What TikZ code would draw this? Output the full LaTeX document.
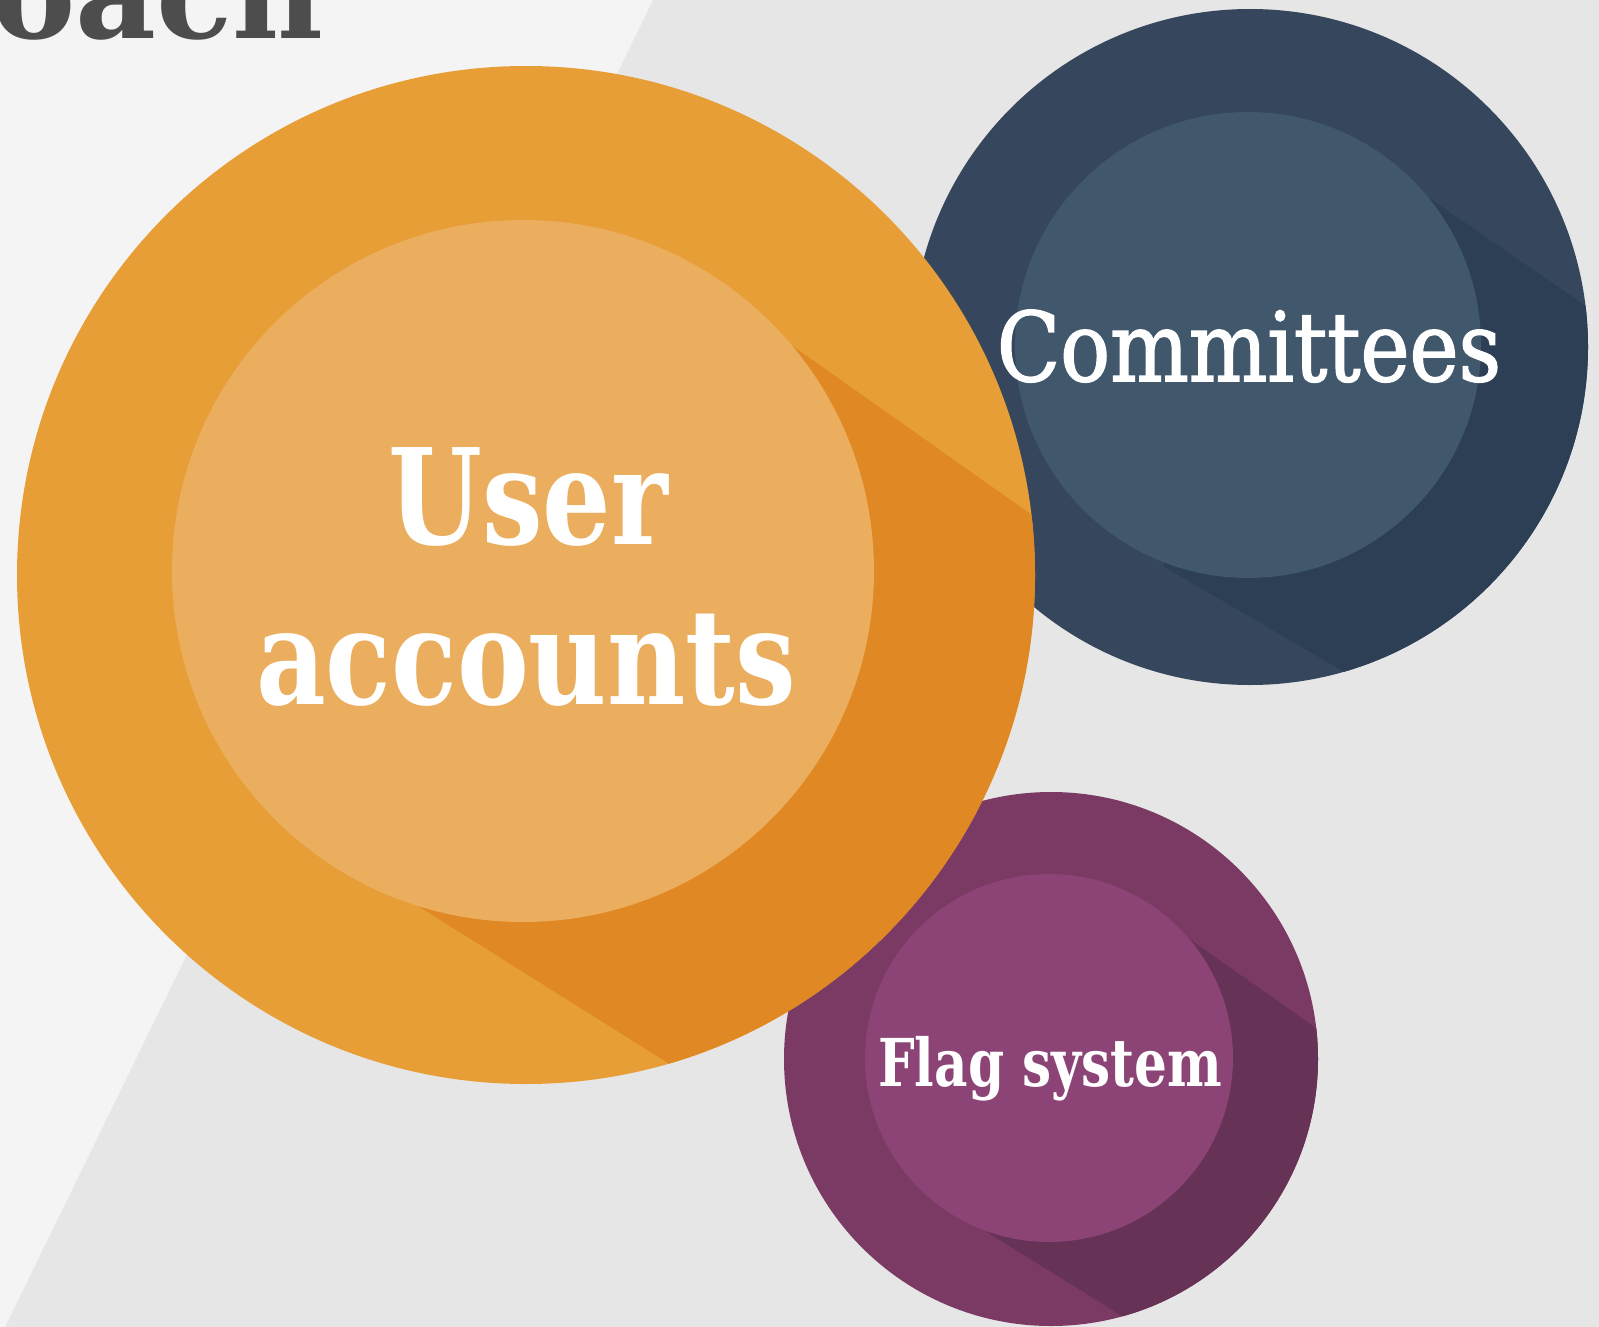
\documentclass[tikz,border=0pt]{standalone}
\usepackage{fontspec}
\setmainfont{DejaVu Serif}
\newfontfamily\condfont{DejaVu Serif Condensed}
\newfontfamily\condmed[FakeBold=1.6]{DejaVu Serif Condensed}
\definecolor{bgL}{HTML}{F4F4F4}
\definecolor{bgR}{HTML}{E6E6E6}
\definecolor{titleC}{HTML}{4D4D4D}
\definecolor{orO}{HTML}{E89E37}
\definecolor{orI}{HTML}{EAAE5E}
\definecolor{orS}{HTML}{E08823}
\definecolor{nvO}{HTML}{36475D}
\definecolor{nvI}{HTML}{41576C}
\definecolor{nvS}{HTML}{2D3F55}
\definecolor{puO}{HTML}{7B3A64}
\definecolor{puI}{HTML}{8C4476}
\definecolor{puS}{HTML}{663255}
\tikzset{
  disc/.style={circle, inner sep=0pt, outer sep=0pt, draw=none},
  label/.style={text=white, inner sep=0pt, anchor=base},
}
\begin{document}
\begin{tikzpicture}[x=1pt,y=-1pt]
\useasboundingbox (0,0) rectangle (1599,1327);
\clip (0,0) rectangle (1599,1327);
% background
\fill[bgR] (0,0) rectangle (1599,1327);
\fill[bgL] (0,0) -- (653,0) -- (5,1327) -- (0,1327) -- cycle;
% title fragment
\node[text=titleC, inner sep=0pt, anchor=base east, font=\bfseries\fontsize{125}{150}\selectfont] (title) at (324,39) {Approach};

% navy circle
\node[disc, fill=nvO, minimum size=676pt] (nvout) at (1250,347) {};
\begin{scope}
  \clip (1250,347) circle [radius=338pt];
  \fill[nvS] (1248,345) -- (1423,194) -- (1912,530) -- (1697,878) -- (1163,566) -- cycle;
\end{scope}
\node[disc, fill=nvI, minimum size=466pt] (nvin) at (1248,345) {};
\node[label, xscale=0.96, font=\condmed\fontsize{96}{115}\selectfont] (committees) at (1249,381) {Committees};

% purple circle
\node[disc, fill=puO, minimum size=534pt] (puout) at (1051,1059) {};
\begin{scope}
  \clip (1051,1059) circle [radius=267pt];
  \fill[puS] (1049,1058) -- (1188,938) -- (1572,1208) -- (1392,1484) -- (987,1232) -- cycle;
\end{scope}
\node[disc, fill=puI, minimum size=368pt] (puin) at (1049,1058) {};
\node[label, xscale=0.87, font=\condfont\bfseries\fontsize{66}{80}\selectfont] (flag) at (1050,1086) {Flag system};

% orange circle
\node[disc, fill=orO, minimum size=1018pt] (orout) at (526,575) {};
\begin{scope}
  \clip (526,575) circle [radius=509pt];
  \fill[orS] (523,571) -- (787,342) -- (1522,861) -- (1418,1534) -- (418,906) -- cycle;
\end{scope}
\node[disc, fill=orI, minimum size=702pt] (orin) at (523,571) {};
\node[label, xscale=0.9, font=\condfont\bfseries\fontsize{133}{160}\selectfont] (user) at (528,544) {User};
\node[label, xscale=0.9, font=\condfont\bfseries\fontsize{133}{160}\selectfont] (accounts) at (526,704) {accounts};
\end{tikzpicture}
\end{document}
